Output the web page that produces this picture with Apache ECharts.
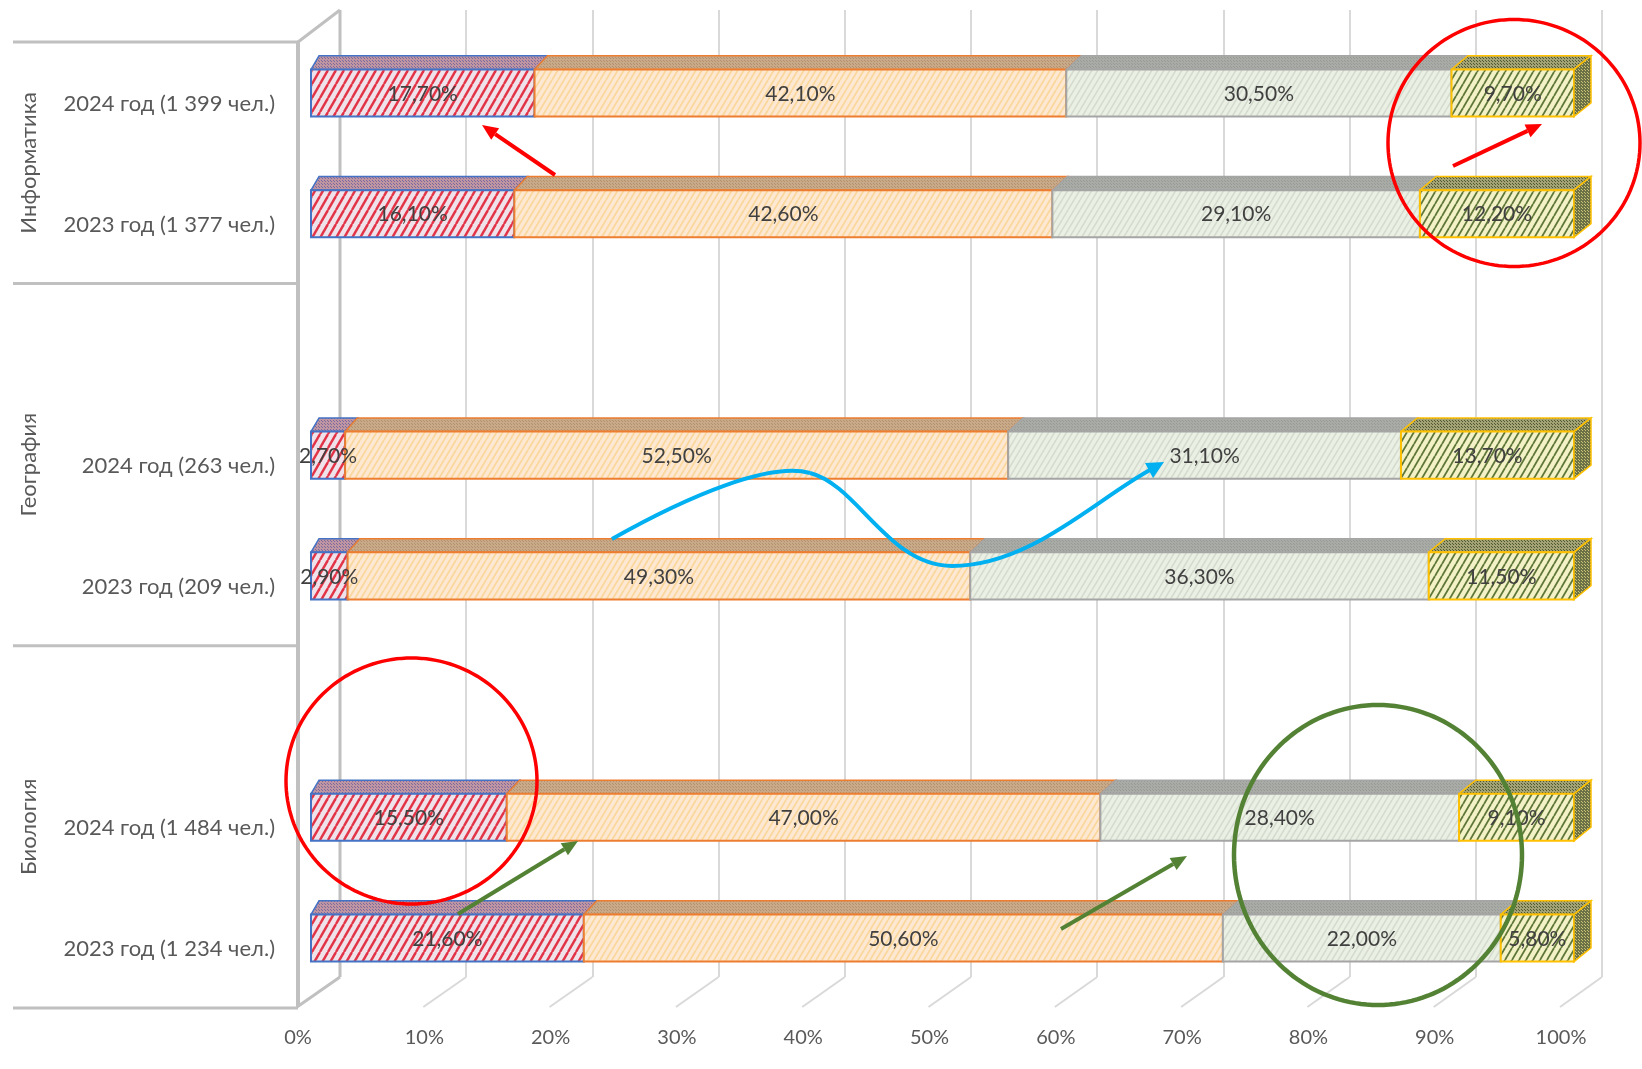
<!DOCTYPE html>
<html><head><meta charset="utf-8">
<script src="https://cdn.jsdelivr.net/npm/echarts@6/dist/echarts.min.js"></script>
<style>html,body{margin:0;padding:0;background:#fff}#c{width:1642px;height:1069px}</style>
</head><body><div id="c"></div>
<script>
// ---------- DATA ----------
const categories = ['2024 год (1 399 чел.)', '2023 год (1 377 чел.)', '', '2024 год (263 чел.)', '2023 год (209 чел.)', '', '2024 год (1 484 чел.)', '2023 год (1 234 чел.)'];
const groups = ['Информатика', 'География', 'Биология'];
const groupSizes = [2, 3, 3];
const seriesLow = [17.7, 16.1, null, 2.7, 2.9, null, 15.5, 21.6];
const seriesMid = [42.1, 42.6, null, 52.5, 49.3, null, 47.0, 50.6];
const seriesHigh = [30.5, 29.1, null, 31.1, 36.3, null, 28.4, 22.0];
const seriesTop = [9.7, 12.2, null, 13.7, 11.5, null, 9.1, 5.8];
const tickValues = [0, 10, 20, 30, 40, 50, 60, 70, 80, 90, 100];

// ---------- PATTERNS ----------
function stripes(bg, fg, w, h, lw){
  const c=document.createElement('canvas'); c.width=w; c.height=h;
  const g=c.getContext('2d'); g.fillStyle=bg; g.fillRect(0,0,w,h);
  g.strokeStyle=fg; g.lineWidth=lw;
  for (const o of [-w,0,w]){ g.beginPath(); g.moveTo(o,h); g.lineTo(o+w,0); g.stroke(); }
  return {image:c, repeat:'repeat'};
}
function dots(bg, fg, s){
  const c=document.createElement('canvas'); c.width=s; c.height=s;
  const g=c.getContext('2d'); g.fillStyle=bg; g.fillRect(0,0,s,s);
  g.fillStyle=fg; g.fillRect(0,0,1,1); g.fillRect(Math.floor(s/2),Math.floor(s/2),1,1);
  return {image:c, repeat:'repeat'};
}
const styles = [
  {front: stripes('#efe2ea','#e23446',8,14,2.4), top: dots('#bf95a2','#7a6aa0',3), border:'#4472c4'},
  {front: stripes('#fde9d3','#fad79c',6,10,1.8), top: dots('#c8aa88','#b39070',3), border:'#ed7d31'},
  {front: stripes('#eaf0e4','#d4dbce',6,10,1.5), top: dots('#a9aca6','#989b95',3), border:'#a5a5a5'},
  {front: stripes('#f3f2c6','#5e7638',7,12,1.8), top: dots('#a2a274','#4f5a33',3), border:'#ffc000', side: dots('#6c7246','#c9c274',3)}
];
const values = [seriesLow, seriesMid, seriesHigh, seriesTop];

function fmt(v){ return v.toFixed(2).replace('.', ',') + '%'; }

function makeRender(k){
  return function(params, api){
    const v0=api.value(0), v1=api.value(1), ci=api.value(2), val=api.value(3);
    const p0=api.coord([v0,ci]), p1=api.coord([v1,ci]);
    const band=api.size([0,1])[1];
    const h=band*0.39, dy=-band*0.113;
    const top=p0[1]-h/2, bot=p0[1]+h/2;
    const dxf=v=>(v<=0?8:12+5*v/100);
    const dx0=dxf(v0), dx1=dxf(v1);
    const st=styles[k];
    const ch=[
      {type:'polygon', z2:1, shape:{points:[[p0[0],top],[p1[0],top],[p1[0]+dx1,top+dy],[p0[0]+dx0,top+dy]]},
        style:{fill:st.top, stroke:st.border, lineWidth:1.5}},
      {type:'rect', z2:2, shape:{x:p0[0], y:top, width:p1[0]-p0[0], height:h},
        style:{fill:st.front, stroke:st.border, lineWidth:2}}
    ];
    if (k===3){
      ch.push({type:'polygon', z2:2, shape:{points:[[p1[0],top],[p1[0]+dx1,top+dy],[p1[0]+dx1,bot+dy],[p1[0],bot]]},
        style:{fill:st.side, stroke:st.border, lineWidth:1.5}});
    }
    ch.push({type:'text', z2:100, style:{text:fmt(val), x:(p0[0]+p1[0])/2, y:p0[1]+1, align:'center', verticalAlign:'middle',
      font:'21px Lato', fill:'#404040'}});
    return {type:'group', children:ch};
  };
}

const series = [];
for (let k=0;k<4;k++){
  const data=[];
  for (let i=0;i<categories.length;i++){
    if (values[k][i]==null) continue;
    let s=0; for (let j=0;j<k;j++) s+=values[j][i];
    data.push([s, s+values[k][i], i, values[k][i]]);
  }
  series.push({type:'custom', xAxisIndex:0, yAxisIndex:0, renderItem:makeRender(k), data, encode:{x:[0,1], y:2}, z:3});
}

const chart = echarts.init(document.getElementById('c'));
chart.setOption({
  animation:false,
  grid:[
    {left:311, right:68, top:32.6, bottom:70.6},
    {left:340, right:40, top:10, bottom:92}
  ],
  xAxis:[
    {type:'value', gridIndex:0, min:0, max:100, interval:10, splitLine:{show:false}, axisLine:{show:false}, axisTick:{show:false},
      axisLabel:{formatter:v=>v+'%', color:'#595959', fontFamily:'Lato', fontSize:20, margin:29, padding:[0,26,0,0]}},
    {type:'value', gridIndex:1, min:0, max:100, interval:10, axisLine:{show:false}, axisTick:{show:false}, axisLabel:{show:false},
      splitLine:{show:true, lineStyle:{color:'#d9d9d9', width:2}}}
  ],
  yAxis:[
    {type:'category', gridIndex:0, data:categories, inverse:true, axisLine:{show:false}, axisTick:{show:false},
      axisLabel:{color:'#595959', fontFamily:'Lato', fontSize:22, margin:36, verticalAlign:'top', lineHeight:22, padding:[0,0,0,0]}},
    {type:'value', gridIndex:1, show:false, splitLine:{show:false}}
  ],
  series
});

// ---------- DECORATION (walls, floor, group labels, annotations) ----------
const g=[];
const wall='#c0c0c0';
const bx=v=>chart.convertToPixel({xAxisIndex:1}, v);
const fx=v=>chart.convertToPixel({xAxisIndex:0}, v);
const backBottom=977, frontBottom=1007, backTop=10, frontTop=42;
tickValues.forEach(v=>{
  g.push({type:'line', z:1, shape:{x1:bx(v), y1:backBottom, x2:fx(v)-14, y2:frontBottom}, style:{stroke:v===0?wall:'#d9d9d9', lineWidth:v===0?3:2}});
});
const x0b=bx(0), x0f=fx(0)-13;
g.push({type:'line', z:1, shape:{x1:x0b, y1:backTop, x2:x0b, y2:backBottom}, style:{stroke:wall, lineWidth:3}});
g.push({type:'line', z:1, shape:{x1:x0f, y1:frontTop, x2:x0b, y2:backTop}, style:{stroke:wall, lineWidth:3}});
g.push({type:'line', z:1, shape:{x1:x0f, y1:frontTop, x2:x0f, y2:frontBottom}, style:{stroke:wall, lineWidth:4}});
const cy=i=>chart.convertToPixel({yAxisIndex:0}, i);
const step=cy(1)-cy(0);
let idx=0;
const frontShift=9.5;
g.push({type:'line', z:1, shape:{x1:13, y1:cy(0)-step/2+frontShift, x2:x0f, y2:cy(0)-step/2+frontShift}, style:{stroke:wall, lineWidth:3}});
groups.forEach((name,gi)=>{
  const a=cy(idx)-step/2+frontShift, b=cy(idx+groupSizes[gi]-1)+step/2+frontShift;
  g.push({type:'line', z:1, shape:{x1:13, y1:b, x2:x0f, y2:b}, style:{stroke:wall, lineWidth:3}});
  g.push({type:'text', z:5, x:29, y:(a+b)/2, rotation:Math.PI/2,
    style:{text:name, align:'center', verticalAlign:'middle', font:'22px Lato', fill:'#595959'}});
  idx+=groupSizes[gi];
});

function ellipse(cx,cy0,rx,ry,color,lw){
  const pts=[]; for(let i=0;i<160;i++){const t=i/160*Math.PI*2; pts.push([cx+rx*Math.cos(t), cy0+ry*Math.sin(t)]);}
  g.push({type:'polygon', z:50, shape:{points:pts}, style:{fill:null, stroke:color, lineWidth:lw}});
}
function arrow(x1,y1,x2,y2,color,lw){
  const a=Math.atan2(y2-y1,x2-x1), L=16, W=7;
  const bxp=x2-L*Math.cos(a), byp=y2-L*Math.sin(a);
  g.push({type:'line', z:50, shape:{x1,y1,x2:bxp,y2:byp}, style:{stroke:color, lineWidth:lw}});
  g.push({type:'polygon', z:50, shape:{points:[[x2,y2],[bxp-W*Math.sin(a),byp+W*Math.cos(a)],[bxp+W*Math.sin(a),byp-W*Math.cos(a)]]}, style:{fill:color}});
}
ellipse(1514,143,126,123.5,'#ff0000',3.5);
ellipse(411.5,781,125.5,123,'#ff0000',3.5);
ellipse(1378,855,144,150,'#548235',4.5);
arrow(555,175,482,125,'#ff0000',4);
arrow(1453,166,1542,124,'#ff0000',4);
arrow(458,914,578,841,'#548235',4);
arrow(1061,929,1187,856,'#548235',4);
const blue='#00b0f0';
g.push({type:'bezierCurve', z:50, shape:{x1:612,y1:539,cpx1:690,cpy1:495,cpx2:770,cpy2:462,x2:810,y2:473}, style:{stroke:blue,lineWidth:4,fill:null}});
g.push({type:'bezierCurve', z:50, shape:{x1:810,y1:473,cpx1:858,cpy1:485,cpx2:888,cpy2:566,x2:952,y2:566}, style:{stroke:blue,lineWidth:4,fill:null}});
g.push({type:'bezierCurve', z:50, shape:{x1:952,y1:566,cpx1:1030,cpy1:566,cpx2:1095,cpy2:500,x2:1150,y2:470}, style:{stroke:blue,lineWidth:4,fill:null}});
g.push({type:'polygon', z:50, shape:{points:[[1164,462],[1145,463],[1153,478]]}, style:{fill:blue}});

chart.setOption({graphic:{elements:g}});
</script></body></html>
